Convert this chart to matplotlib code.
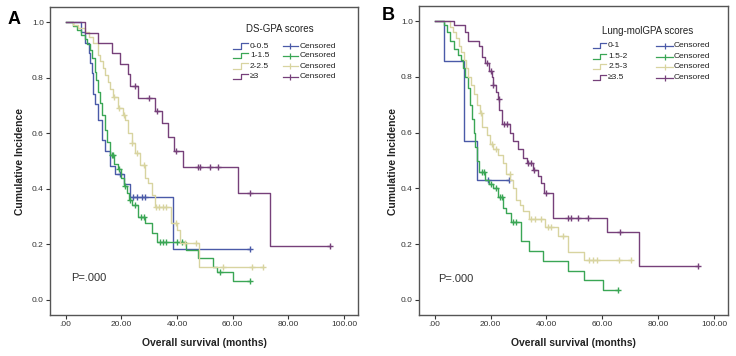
import numpy as np
import matplotlib
matplotlib.use("Agg")
import matplotlib.pyplot as plt

plt.rcParams["font.family"] = ["Liberation Sans", "DejaVu Sans"]

# ---- Panel A: DS-GPA scores ----
a_title = "DS-GPA scores"
a_labels = ["0-0.5", "1-1.5", "2-2.5", "\u22653"]
a_times = [
    [0, 5.6, 6.8, 8.4, 8.8, 9.4, 10.0, 10.5, 11.5, 12.9, 14.0, 15.8, 17.6, 20.9, 23.3, 38.5],
    [0, 2.5, 4, 5.5, 6.8, 7.8, 8.6, 9.5, 10.4, 11.0, 11.5, 12.2, 12.9, 14.0, 15.0, 15.8,
     17.5, 18.7, 20.0, 21.0, 21.9, 22.8, 23.7, 26.0, 28.4, 31.0, 32.7, 43.4, 47.6, 52.9, 54.3, 60.0],
    [0, 2.5, 4.5, 6.8, 8.5, 9.8, 11.5, 12.5, 13.3, 14.2, 15.1, 16, 17, 18.7, 20.5, 21.2,
     22.3, 23.7, 24.8, 26.6, 28.4, 29.5, 31.0, 32.0, 38.0, 39.9, 41.0, 47.8],
    [0, 6.8, 11.5, 16.5, 19.4, 22.3, 23.0, 25.9, 32.0, 34.5, 36.7, 38.8, 42.2, 61.9, 73.4],
]
a_surv = [
    [1.0, 0.963, 0.926, 0.889, 0.852, 0.815, 0.741, 0.704, 0.648, 0.574, 0.537, 0.481,
     0.454, 0.417, 0.37, 0.185],
    [1.0, 0.985, 0.97, 0.955, 0.94, 0.92, 0.9, 0.87, 0.82, 0.79, 0.75, 0.71, 0.665, 0.61,
     0.57, 0.52, 0.49, 0.47, 0.44, 0.41, 0.385, 0.36, 0.34, 0.30, 0.277, 0.24, 0.21, 0.18,
     0.15, 0.12, 0.10, 0.07],
    [1.0, 0.99, 0.98, 0.965, 0.945, 0.925, 0.88, 0.86, 0.835, 0.81, 0.785, 0.76, 0.73,
     0.69, 0.665, 0.647, 0.60, 0.565, 0.53, 0.486, 0.44, 0.42, 0.377, 0.335, 0.277, 0.25,
     0.205, 0.12],
    [1.0, 0.962, 0.925, 0.887, 0.85, 0.812, 0.77, 0.727, 0.68, 0.636, 0.586, 0.535, 0.48,
     0.385, 0.193],
]
a_censor = [
    [19.4, 24.1, 25.5, 27.3, 28.4, 66.2],
    [16.5, 17.2, 19.3, 21.5, 23.2, 24.8, 27, 28, 33.8, 35, 36, 39.9, 41.7, 55.4, 66.2],
    [17.5, 19, 21, 24, 25.5, 28, 32.5, 33.7, 34.9, 36.1, 39.5, 43, 47, 56.5, 67, 70.8],
    [24.8, 30.0, 32.7, 39.6, 47.6, 48.4, 51.8, 54.8, 66.2, 95.0],
]

# ---- Panel B: Lung-molGPA scores ----
b_title = "Lung-molGPA scores"
b_labels = ["0-1", "1.5-2", "2.5-3", "\u22653.5"]
b_times = [
    [0, 3.3, 10.4, 15.0],
    [0, 3.2, 4.5, 5.4, 7.0, 8.3, 9.6, 10.3, 11.0, 11.8, 12.5, 13.2, 14.0, 14.5, 15.0, 16.0,
     18.0, 19.5, 21.0, 22.8, 24.6, 25.7, 27.5, 31.0, 33.9, 38.9, 47.9, 53.6, 60.4],
    [0, 5.4, 6.5, 7.5, 8.6, 9.5, 10.5, 11.2, 12.0, 13.0, 14.0, 15.0, 16.2, 17.1, 18.6, 19.8,
     21.0, 22.5, 24.3, 25.7, 27.1, 28.2, 29.0, 30.5, 31.8, 33.6, 39.6, 44.0, 47.9, 53.4],
    [0, 7.1, 10.7, 12.0, 15.7, 16.8, 18.0, 19.5, 20.4, 21.0, 22.0, 22.7, 23.2, 24.0, 26.8,
     28.0, 30.0, 31.8, 32.9, 35.2, 37.0, 38.2, 39.3, 42.4, 61.7, 73.2],
]
b_surv = [
    [1.0, 0.857, 0.571, 0.429],
    [1.0, 0.985, 0.96, 0.93, 0.9, 0.88, 0.86, 0.83, 0.8, 0.76, 0.7, 0.65, 0.6, 0.55, 0.5,
     0.46, 0.43, 0.415, 0.40, 0.37, 0.33, 0.31, 0.28, 0.21, 0.175, 0.14, 0.105, 0.07, 0.035],
    [1.0, 0.98, 0.96, 0.94, 0.91, 0.89, 0.86, 0.83, 0.8, 0.77, 0.74, 0.7, 0.67, 0.62, 0.59,
     0.56, 0.54, 0.52, 0.49, 0.45, 0.43, 0.40, 0.36, 0.34, 0.32, 0.29, 0.26, 0.23, 0.173, 0.145],
    [1.0, 0.985, 0.96, 0.93, 0.91, 0.87, 0.85, 0.82, 0.8, 0.77, 0.745, 0.72, 0.68, 0.63, 0.6,
     0.57, 0.54, 0.51, 0.49, 0.465, 0.443, 0.42, 0.385, 0.295, 0.245, 0.123],
]
b_censor = [
    [19.0, 26.6],
    [16.8, 17.5, 20, 22, 23.5, 24.2, 28.2, 29, 65.7],
    [16.5, 20.4, 22, 26.8, 34.6, 35.8, 38.2, 40.5, 41.5, 46, 55.4, 56.8, 58, 66, 70.4],
    [18.9, 20.0, 21.0, 23.0, 24.8, 26.0, 33.5, 34.6, 35.5, 39.8, 47.7, 48.9, 51.3, 54.9, 66.4, 94.2],
]

colors = ["#4a5aa8", "#3aa655", "#d8d4a0", "#76407a"]
x_ticks = [0, 20, 40, 60, 80, 100]
y_ticks = [0.0, 0.2, 0.4, 0.6, 0.8, 1.0]
p_text = "P=.000"


def draw_panel(ax, times, surv, censor, labels, title, leg):
    for t, s, c, col in zip(times, surv, censor, colors):
        t = np.array(t, dtype=float)
        s = np.array(s, dtype=float)
        c = np.array(c, dtype=float)
        end = max(t[-1], c.max())
        ax.step(np.append(t, end), np.append(s, s[-1]), where="post",
                color=col, lw=1.0)
        cy = s[np.searchsorted(t, c, side="right") - 1]
        ax.plot(c, cy, ls="none", marker="+", ms=5, mew=1.0, color=col)

    ax.set_xlim(-5.6, 105)
    ax.set_ylim(-0.054, 1.054)
    ax.set_xticks(x_ticks)
    ax.set_xticklabels([".00"] + ["%.2f" % v for v in x_ticks[1:]])
    ax.set_yticks(y_ticks)
    ax.set_yticklabels(["%.1f" % v for v in y_ticks])
    ax.tick_params(labelsize=6, length=3, width=0.8, colors="#333333", pad=1.5)
    for sp in ax.spines.values():
        sp.set_color("#555555")
        sp.set_linewidth(1.0)

    # legend drawn by hand (SPSS style)
    tx, ty, sx0, sx1, lx, cx0, cx1, ctx, rows = leg
    ax.text(tx, ty, title, transform=ax.transAxes, ha="center", va="center",
            fontsize=7, color="#222222")
    for y, lab, col in zip(rows, labels, colors):
        xm = sx0 + 0.55 * (sx1 - sx0)
        ax.plot([sx0, xm, xm, sx1], [y - 0.008, y - 0.008, y + 0.010, y + 0.010],
                transform=ax.transAxes, color=col, lw=0.9, clip_on=False)
        ax.text(lx, y, lab, transform=ax.transAxes, ha="left", va="center",
                fontsize=6, color="#222222")
        ax.plot([cx0, cx1], [y, y], transform=ax.transAxes, color=col, lw=0.9)
        ax.plot([(cx0 + cx1) / 2], [y], transform=ax.transAxes, marker="|",
                ms=5, mew=0.9, color=col)
        ax.text(ctx, y, "Censored", transform=ax.transAxes, ha="left",
                va="center", fontsize=6, color="#222222")


fig = plt.figure(figsize=(7.36, 3.56), dpi=100)
ax1 = fig.add_axes([50 / 736, 41 / 356, 308 / 736, 308 / 356])
ax2 = fig.add_axes([419 / 736, 41 / 356, 309 / 736, 309 / 356])

draw_panel(ax1, a_times, a_surv, a_censor, a_labels, a_title,
           (0.747, 0.929, 0.594, 0.643, 0.649, 0.756, 0.805, 0.812,
            [0.873, 0.841, 0.808, 0.773]))
draw_panel(ax2, b_times, b_surv, b_censor, b_labels, b_title,
           (0.74, 0.919, 0.563, 0.605, 0.612, 0.767, 0.822, 0.825,
            [0.871, 0.835, 0.803, 0.767]))

ax1.text(0.068, 0.12, p_text, transform=ax1.transAxes, fontsize=8, va="center",
         color="#333333")
ax2.text(0.061, 0.117, p_text, transform=ax2.transAxes, fontsize=8, va="center",
         color="#333333")

for x in (20 / 736, 393 / 736):
    fig.text(x, 1 - 161 / 356, "Cumulative Incidence", rotation=90, ha="center",
             va="center", fontsize=7.5, fontweight="bold", color="#222222")
for x in (204 / 736, 573 / 736):
    fig.text(x, 1 - 343 / 356, "Overall survival (months)", ha="center",
             va="center", fontsize=7.5, fontweight="bold", color="#222222")

fig.text(14 / 736, 1 - 20 / 356, "A", ha="center", va="center", fontsize=13,
         fontweight="bold")
fig.text(388 / 736, 1 - 16 / 356, "B", ha="center", va="center", fontsize=13,
         fontweight="bold")

fig.savefig("out.png", dpi=100, facecolor="white")
